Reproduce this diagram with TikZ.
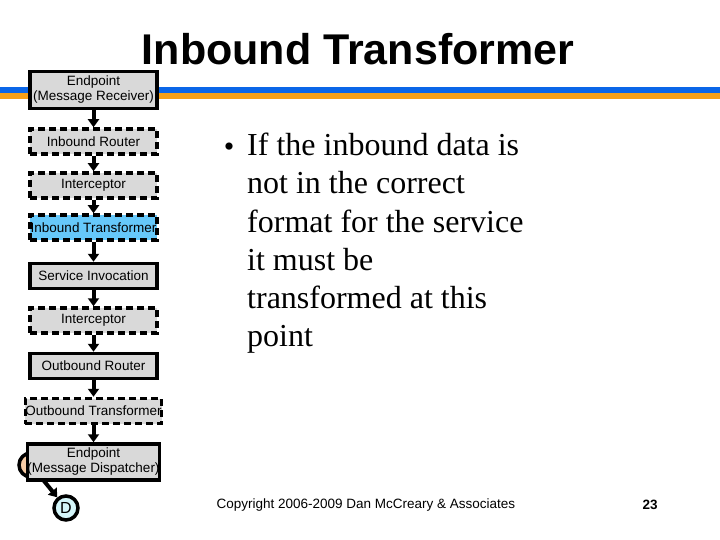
\documentclass[tikz,border=0pt]{standalone}
\usepackage{fontspec}
\setmainfont{Liberation Serif}
\newfontfamily\arial{Liberation Sans}
\usetikzlibrary{arrows.meta}

\definecolor{stripeblue}{RGB}{10,102,232}
\definecolor{stripeorange}{RGB}{246,160,24}
\definecolor{boxgray}{RGB}{217,217,217}
\definecolor{boxblue}{RGB}{102,200,250}
\definecolor{dotorange}{RGB}{248,204,166}
\definecolor{dotcyan}{RGB}{212,246,250}

\tikzset{
  stagebox/.style={draw=black, line width=3.5pt, fill=boxgray, minimum width=127pt,
    minimum height=25pt, inner sep=0pt, font=\arial\fontsize{13.5}{15}\selectfont, align=center},
  optbox/.style={stagebox, dash pattern=on 7pt off 4pt},
  flow/.style={line width=4pt, -{Triangle[width=11pt,length=8pt]}},
  dot/.style={circle, draw=black, line width=3.5pt, minimum size=24pt, inner sep=0pt,
    font=\arial\fontsize{16}{18}\selectfont}
}

\begin{document}
\begin{tikzpicture}[x=1pt, y=-1pt]
\useasboundingbox (0,0) rectangle (720,540);

% Title and the two stripes under it
\node[font=\arial\bfseries\fontsize{43}{50}\selectfont, anchor=base] (title) at (358,65) {Inbound Transformer};
\fill[stripeblue] (0,87) rectangle (720,93.5);
\fill[stripeorange] (0,93.5) rectangle (720,99.5);

% Dots behind the last endpoint
\node[dot, fill=dotorange] (din) at (31,465) {D};
\node[dot, fill=dotcyan] (dout) at (66,508) {D};
\draw[line width=4pt, -{Triangle[width=11pt,length=8pt]}] (din) -- (dout);

% The stages of the service
\node[stagebox, minimum height=37pt] (recv) at (93.5,90) {Endpoint\\(Message Receiver)};
\node[optbox] (inrouter) at (93.5,141.5) {Inbound Router};
\node[optbox] (intercept1) at (93.5,185.5) {Interceptor};
\node[optbox, fill=boxblue] (intrans) at (93.5,227.5) {Inbound Transformer};
\node[stagebox] (invoke) at (93.5,276) {Service Invocation};
\node[optbox] (intercept2) at (93.5,320.5) {Interceptor};
\node[stagebox] (outrouter) at (93.5,366) {Outbound Router};
\node[optbox] (outtrans) at (93.5,411) {Outbound Transformer};
\node[stagebox, minimum height=36pt] (disp) at (93.5,462) {Endpoint\\(Message Dispatcher)};

\foreach \a/\b in {recv/inrouter, inrouter/intercept1, intercept1/intrans, intrans/invoke,
    invoke/intercept2, intercept2/outrouter, outrouter/outtrans, outtrans/disp}
    \draw[flow] (\a) -- (\b);

% Bullet text
\node[font=\fontsize{30}{38}\selectfont] (bullet) at (229,150) {\textbullet};
\node[anchor=north west, align=left, inner sep=0pt, font=\fontsize{32}{38.2}\selectfont] (text) at (247,133)
  {If the inbound data is\\not in the correct\\format for the service\\it must be\\transformed at this\\point};

% Footer
\node[font=\arial\fontsize{13.5}{15}\selectfont, anchor=west] (copy) at (213,505) {Copyright 2006-2009 Dan McCreary \& Associates};
\node[font=\arial\bfseries\fontsize{13.5}{15}\selectfont] (page) at (650,505) {23};
\end{tikzpicture}
\end{document}
